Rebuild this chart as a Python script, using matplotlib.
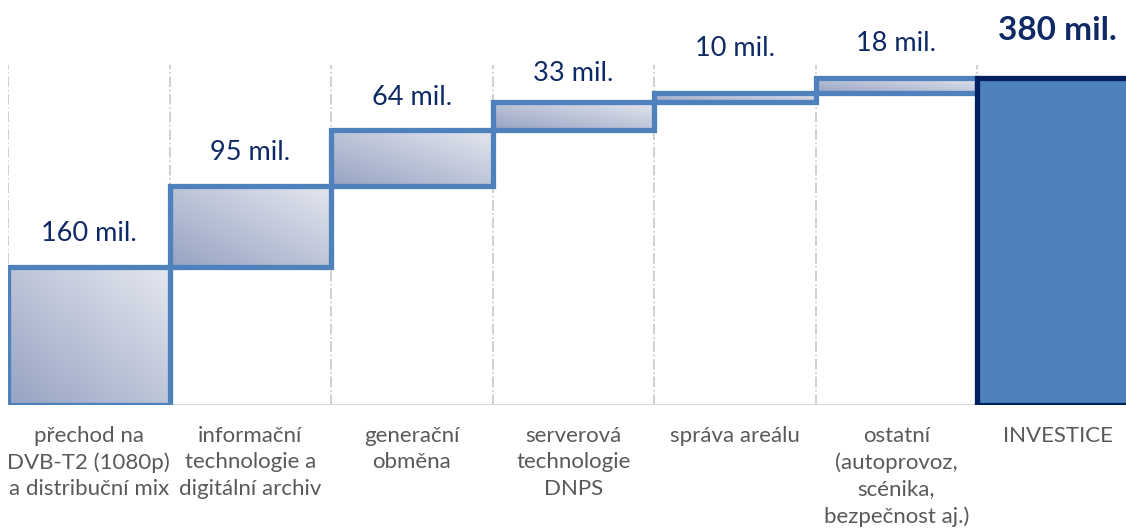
import numpy as np
import matplotlib.pyplot as plt
from matplotlib.patches import Rectangle
from matplotlib.colors import LinearSegmentedColormap

# Datos del grafico (mil. Kc)
categories = ["přechod na\nDVB-T2 (1080p)\na distribuční mix",
              "informační\ntechnologie a\ndigitální archiv",
              "generační\nobměna",
              "serverová\ntechnologie\nDNPS",
              "správa areálu",
              "ostatní\n(autoprovoz,\nscénika,\nbezpečnost aj.)",
              "INVESTICE"]
steps = [160, 95, 64, 33, 10, 18]
total = 380
value_labels = ["160 mil.", "95 mil.", "64 mil.", "33 mil.", "10 mil.", "18 mil.", "380 mil."]

# estilos
EDGE = "#4F81BD"
TOTAL_FILL = "#4F81BD"
TOTAL_EDGE = "#002060"
LABEL_COL = "#0E2A66"
CAT_COL = "#595959"
label_offsets_px = [34, 33, 33, 29, 45, 34, 47]

plt.rcParams['font.family'] = ['Lato', 'DejaVu Sans']

fig = plt.figure(figsize=(11.26, 5.30), dpi=100)
ax = fig.add_axes([8 / 1126, 125 / 530, 1130.5 / 1126, 340 / 530])

grad_cmap = LinearSegmentedColormap.from_list("g", ["#97A3C2", "#E4E7EF"])
gx, gy = np.meshgrid(np.linspace(0, 1, 64), np.linspace(0, 1, 64))
grad = (gx + gy) / 2.0

bottoms = np.concatenate([[0], np.cumsum(steps)[:-1]])
x = np.arange(len(categories))

# barras con degradado
for i, (b, h) in enumerate(zip(bottoms, steps)):
    x0 = x[i] - 0.5
    im = ax.imshow(grad, cmap=grad_cmap, origin="lower", aspect="auto",
                   extent=(x0, x0 + 1, b, b + h), zorder=2, interpolation="bilinear")
    rect = Rectangle((x0, b), 1, h, facecolor="none", edgecolor=EDGE, lw=3.8, zorder=3,
                     joinstyle="miter")
    ax.add_patch(rect)
    im.set_clip_path(rect)

# barra total
ax.bar(x[-1], total, width=1.0, color=TOTAL_FILL, edgecolor=TOTAL_EDGE, lw=3.8, zorder=3)

# etiquetas de valor
tops = list(np.cumsum(steps)) + [total]
for i, (t, lab) in enumerate(zip(tops, value_labels)):
    bold = i == len(tops) - 1
    ax.annotate(lab, (x[i], t), xytext=(0, label_offsets_px[i]), textcoords="offset pixels",
                ha="center", va="center", color=LABEL_COL,
                fontsize=24 if bold else 19.5, fontweight="bold" if bold else "normal",
                zorder=5)

# lineas verticales de division
for xv in x - 0.5:
    ax.axvline(xv, color="#C8C8C8", lw=1.2, ls="-.", zorder=1)
ax.axhline(0, color="#D9D9D9", lw=1.5, zorder=1)

ax.set_xlim(-0.5, len(categories) - 0.5)
ax.set_ylim(0, 395)
ax.set_xticks(x)
ax.set_xticklabels(categories, color=CAT_COL, fontsize=16, linespacing=1.4, va="top")
ax.tick_params(axis="x", length=0, pad=15)
ax.set_yticks([])
for s in ax.spines.values():
    s.set_visible(False)

fig.savefig("out.png", dpi=100)
